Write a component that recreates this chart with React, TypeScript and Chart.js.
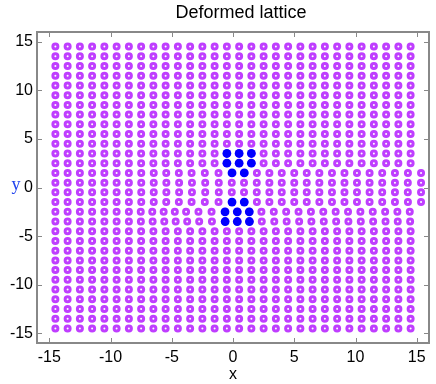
import React, { useEffect, useRef } from 'react';
import { Chart, registerables } from 'chart.js';

Chart.register(...registerables);

// ---- data ----
const chartTitle = 'Deformed lattice';
const xAxisTitle = 'x';
const yAxisTitle = 'y';
const xTickValues = [-15, -10, -5, 0, 5, 10, 15];
const yTickValues = [-15, -10, -5, 0, 5, 10, 15];

// regular lattice columns and rows
const latticeX = [
  -14.5, -13.5, -12.5, -11.5, -10.5, -9.5, -8.5, -7.5, -6.5, -5.5, -4.5, -3.5, -2.5, -1.5, -0.5,
  0.5, 1.5, 2.5, 3.5, 4.5, 5.5, 6.5, 7.5, 8.5, 9.5, 10.5, 11.5, 12.5, 13.5, 14.5,
];
const rowY = [
  14.5, 13.5, 12.5, 11.5, 10.5, 9.5, 8.5, 7.5, 6.5, 5.5, 4.5, 3.5, 2.5, 1.5, 0.5,
  -0.5, -1.5, -2.5, -3.5, -4.5, -5.5, -6.5, -7.5, -8.5, -9.5, -10.5, -11.5, -12.5, -13.5, -14.5,
];

// deformed rows (x positions)
const rowXy1_5 = [
  -14.5, -13.5, -12.5, -11.5, -10.5, -9.5, -8.5, -7.49, -6.47, -5.45, -4.42, -3.38, -2.3, -1.18, -0.08,
  0.92, 1.95, 2.97, 3.98, 5.0, 6.02, 7.05, 8.08, 9.1, 10.12, 11.15, 12.18, 13.22, 14.28, 15.35,
];
const rowXy0_5 = [
  -14.5, -13.5, -12.5, -11.5, -10.5, -9.5, -8.5, -7.49, -6.47, -5.44, -4.4, -3.35, -2.27, -1.16, -0.1,
  0.9, 1.94, 2.97, 3.98, 5.0, 6.02, 7.05, 8.08, 9.1, 10.12, 11.15, 12.18, 13.22, 14.27, 15.35,
];
const rowXyM0_5 = [
  -14.5, -13.5, -12.5, -11.5, -10.5, -9.5, -8.5, -7.49, -6.47, -5.44, -4.4, -3.35, -2.27, -1.16, -0.1,
  0.9, 1.94, 2.97, 3.98, 5.0, 6.02, 7.05, 8.08, 9.1, 10.12, 11.15, 12.18, 13.22, 14.27, 15.35,
];
const rowXyM1_5 = [
  -14.5, -13.5, -12.5, -11.5, -10.5, -9.5, -8.5, -7.49, -6.47, -5.45, -4.42, -3.38, -2.3, -1.18, -0.08,
  0.92, 1.95, 2.97, 3.98, 5.0, 6.02, 7.05, 8.08, 9.1, 10.12, 11.15, 12.18, 13.22, 14.28, 15.35,
];
const rowXyM2_5 = [
  -14.5, -13.5, -12.5, -11.5, -10.5, -9.5, -8.5, -7.53, -6.59, -5.66, -4.75, -3.83, -2.82, -1.75, -0.65,
  0.35, 1.33, 2.32, 3.33, 4.34, 5.35, 6.36, 7.37, 8.38, 9.39, 10.4, 11.41, 12.42, 13.42, 14.43,
];
const rowXyM3_5 = [
  -14.5, -13.5, -12.5, -11.5, -10.5, -9.5, -8.5, -7.52, -6.56, -5.61, -4.68, -3.74, -2.76, -1.72, -0.64,
  0.35, 1.34, 2.35, 3.37, 4.38, 5.4, 6.4, 7.41, 8.42, 9.42, 10.43, 11.44, 12.45, 13.45, 14.46,
];

// core atoms (blue)
const coreX = [-0.5, 0.5, 1.5, -0.5, 0.5, 1.5, -0.08, 0.92, -0.08, 0.92, -0.65, 0.35, 1.33, -0.64, 0.35, 1.34];
const coreY = [3.5, 3.5, 3.5, 2.5, 2.5, 2.5, 1.5, 1.5, -1.5, -1.5, -2.5, -2.5, -2.5, -3.5, -3.5, -3.5];

const deformedRows: Record<string, number[]> = {
  '1.5': rowXy1_5,
  '0.5': rowXy0_5,
  '-0.5': rowXyM0_5,
  '-1.5': rowXyM1_5,
  '-2.5': rowXyM2_5,
  '-3.5': rowXyM3_5,
};

const atomPoints: { x: number; y: number }[] = [];
for (const y of rowY) {
  const xs = deformedRows[String(y)] ?? latticeX;
  for (const x of xs) atomPoints.push({ x, y });
}
const corePoints = coreX.map((x, i) => ({ x, y: coreY[i] }));

const FONT = '"Liberation Sans", Arial, Helvetica, sans-serif';

const framePlugin = {
  id: 'frame',
  afterDraw(chart: any) {
    const { ctx, chartArea: a, scales } = chart;
    ctx.save();
    ctx.strokeStyle = '#888888';
    ctx.lineWidth = 1;
    ctx.beginPath();
    for (const v of xTickValues) {
      const px = Math.round(scales.x.getPixelForValue(v)) + 0.5;
      ctx.moveTo(px, a.bottom);
      ctx.lineTo(px, a.bottom - 5);
      ctx.moveTo(px, a.top);
      ctx.lineTo(px, a.top + 5);
    }
    for (const v of yTickValues) {
      const py = Math.round(scales.y.getPixelForValue(v)) + 0.5;
      ctx.moveTo(a.left, py);
      ctx.lineTo(a.left + 5, py);
      ctx.moveTo(a.right, py);
      ctx.lineTo(a.right - 5, py);
    }
    ctx.stroke();
    ctx.lineWidth = 2;
    ctx.strokeRect(a.left, a.top, a.right - a.left, a.bottom - a.top);

    // y axis title (not rotated)
    ctx.fillStyle = '#2244ee';
    ctx.font = '18px "Liberation Serif", "DejaVu Serif", serif';
    ctx.textAlign = 'center';
    ctx.textBaseline = 'alphabetic';
    ctx.fillText(yAxisTitle, 16, scales.y.getPixelForValue(0) + 2);

    // chart title
    ctx.fillStyle = '#000';
    ctx.font = '18px ' + FONT;
    ctx.textAlign = 'center';
    ctx.textBaseline = 'middle';
    ctx.fillText(chartTitle, 241, 13);
    ctx.restore();
  },
};

export default function App() {
  const ref = useRef<HTMLCanvasElement>(null);
  useEffect(() => {
    if (!ref.current) return;
    const chart = new Chart(ref.current, {
      type: 'scatter',
      data: {
        datasets: [
          {
            label: 'core',
            data: corePoints,
            pointRadius: 4.4,
            pointBorderWidth: 0,
            borderWidth: 0,
            backgroundColor: '#0000ff',
            pointBackgroundColor: '#0000ff',
          },
          {
            label: 'atoms',
            data: atomPoints,
            pointRadius: 2.5,
            pointBorderWidth: 3,
            borderWidth: 3,
            borderColor: '#bf3eff',
            pointBorderColor: '#bf3eff',
            backgroundColor: '#ffffff',
            pointBackgroundColor: '#ffffff',
          },
        ],
      },
      options: {
        responsive: false,
        animation: false,
        devicePixelRatio: 1,
        events: [],
        layout: { padding: { top: 32, right: 4, left: 0, bottom: 0 } },
        plugins: {
          legend: { display: false },
          tooltip: { enabled: false },
          title: { display: false },
        },
        scales: {
          x: {
            type: 'linear',
            min: -16,
            max: 16,
            grid: { display: false, drawTicks: false },
            border: { display: false },
            afterBuildTicks: (s: any) => {
              s.ticks = xTickValues.map((v) => ({ value: v }));
            },
            afterFit: (s: any) => {
              s.height = 41;
            },
            ticks: {
              color: '#000',
              padding: 5,
              font: { family: FONT, size: 16 },
              maxRotation: 0,
              autoSkip: false,
            },
            title: {
              display: true,
              text: xAxisTitle,
              color: '#000',
              font: { family: FONT, size: 16 },
              padding: { top: 0, bottom: 0 },
            },
          },
          y: {
            type: 'linear',
            min: -16,
            max: 16,
            grid: { display: false, drawTicks: false },
            border: { display: false },
            afterBuildTicks: (s: any) => {
              s.ticks = yTickValues.map((v) => ({ value: v }));
            },
            afterFit: (s: any) => {
              s.width = 37;
            },
            ticks: {
              color: '#000',
              padding: 4,
              font: { family: FONT, size: 16 },
              autoSkip: false,
            },
          },
        },
      },
      plugins: [framePlugin],
    });
    return () => chart.destroy();
  }, []);
  return (
    <canvas
      ref={ref}
      width={436}
      height={384}
      style={{ position: 'absolute', left: 0, top: 0, display: 'block', width: 436, height: 384 }}
    />
  );
}
